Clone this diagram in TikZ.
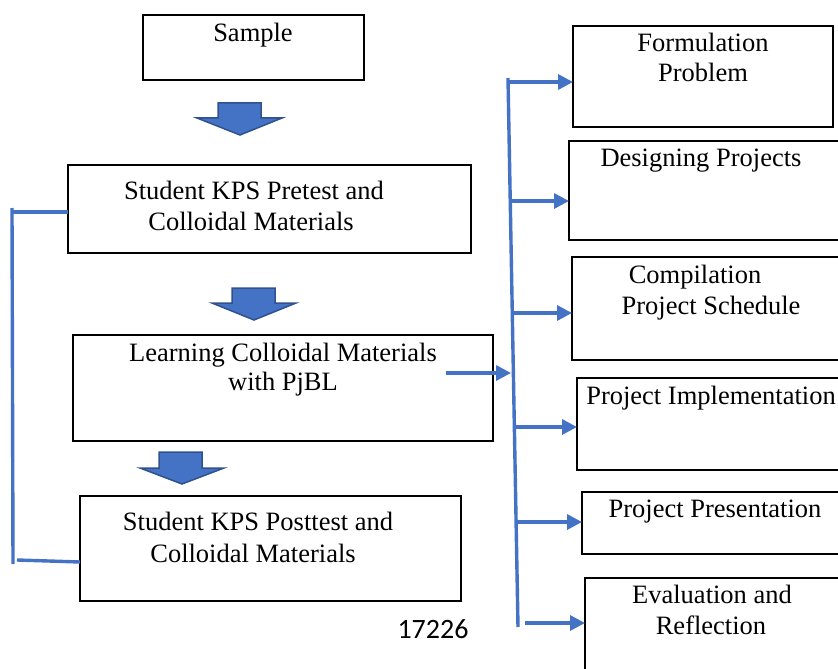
\documentclass[tikz,border=0pt]{standalone}
\usepackage{fontspec}
\setmainfont{Liberation Serif}
\newfontfamily\numfont{Carlito}
\usetikzlibrary{arrows.meta}
\definecolor{obl}{HTML}{4472C4}
\definecolor{obldark}{HTML}{2F528F}
\begin{document}
\begin{tikzpicture}[x=1bp,y=-1bp,
  box/.style={draw=black,line width=1.1bp,rectangle,inner sep=0pt,outer sep=0pt},
  txt/.style={anchor=base,inner sep=0pt,font=\fontsize{26.5bp}{31bp}\selectfont},
  blk/.style={fill=obl,draw=obldark,line width=1.5bp,line join=miter},
  bline/.style={draw=obl,line width=3.4bp},
  barrow/.style={draw=obl,line width=3.4bp,-{Triangle[length=15bp,width=15bp]}}]
\useasboundingbox (0,0) rectangle (838,669);
% left boxes
\node[box,minimum width=221bp,minimum height=65bp] (sample) at (253.5,47.5) {};
\node[box,minimum width=403bp,minimum height=88bp] (pre) at (269.5,209) {};
\node[box,minimum width=420bp,minimum height=106bp] (learn) at (283,388) {};
\node[box,minimum width=381bp,minimum height=105bp] (post) at (270.5,548.5) {};
% right boxes
\node[box,minimum width=260bp,minimum height=101bp] (form) at (703,76.5) {};
\node[box,minimum width=281bp,minimum height=99bp] (design) at (709.5,190.5) {};
\node[box,minimum width=278bp,minimum height=103bp] (comp) at (711,308.5) {};
\node[box,minimum width=273bp,minimum height=92bp] (impl) at (713.5,424) {};
\node[box,minimum width=268bp,minimum height=62bp] (pres) at (716,523) {};
\node[box,minimum width=265bp,minimum height=112bp] (eval) at (717.5,634) {};
% texts
\node[txt] (t1) at (253,42) {Sample};
\node[txt] (t2) at (254,199) {Student KPS Pretest and};
\node[txt] (t3) at (251,230) {Colloidal Materials};
\node[txt] (t4) at (283,361) {Learning Colloidal Materials};
\node[txt] (t5) at (283,390) {with PjBL};
\node[txt] (t6) at (258,530) {Student KPS Posttest and};
\node[txt] (t7) at (253,562) {Colloidal Materials};
\node[txt] (r1) at (703,52) {Formulation};
\node[txt] (r2) at (703,82) {Problem};
\node[txt] (r3) at (701,167) {Designing Projects};
\node[txt] (r4) at (695,283) {Compilation};
\node[txt] (r5) at (711,314) {Project Schedule};
\node[txt] (r6) at (711,404) {Project Implementation};
\node[txt] (r7) at (715,517) {Project Presentation};
\node[txt] (r8) at (712,603) {Evaluation and};
\node[txt] (r9) at (711,634) {Reflection};
\node[anchor=base,inner sep=0pt,font=\numfont\fontsize{28bp}{32bp}\selectfont] (num) at (433,638) {17226};
% block arrows
\filldraw[blk] (218,103) -- (261,103) -- (261,118) -- (282,118) -- (240,135) -- (197,118) -- (218,118) -- cycle;
\filldraw[blk] (232,288) -- (275,288) -- (275,303) -- (296,303) -- (254,320) -- (212,303) -- (232,303) -- cycle;
\filldraw[blk] (159,452) -- (202,452) -- (202,468) -- (224,468) -- (182,484) -- (140,468) -- (159,468) -- cycle;
% left bracket
\coordinate (lt) at (12,208);
\coordinate (lb) at (13,564);
\coordinate (lh1) at (12,212);
\coordinate (lh2) at (17,560);
\draw[bline] (lt) -- (lb);
\draw[bline] (lh1) -- (lh1 -| pre.west);
\draw[bline] (lh2) -- (post.west |- 0,562);
% right bracket
\coordinate (rt) at (508,78);
\coordinate (rb) at (518,627);
\draw[bline] (rt) -- (rb);
\coordinate (b1) at (508,82);
\coordinate (b2) at (510,201);
\coordinate (b3) at (512,313);
\coordinate (b4) at (514,427);
\coordinate (b5) at (516,522);
\coordinate (b6) at (525,623);
\draw[barrow] (b1) -- (b1 -| form.west);
\draw[barrow] (b2) -- (b2 -| design.west);
\draw[barrow] (b3) -- (b3 -| comp.west);
\draw[barrow] (b4) -- (b4 -| impl.west);
\draw[barrow] (b5) -- (b5 -| pres.west);
\draw[barrow] (b6) -- (b6 -| eval.west);
% input arrow from learning box
\coordinate (in1) at (446,373);
\coordinate (in2) at (511,373);
\draw[barrow] (in1) -- (in2);
\end{tikzpicture}
\end{document}
